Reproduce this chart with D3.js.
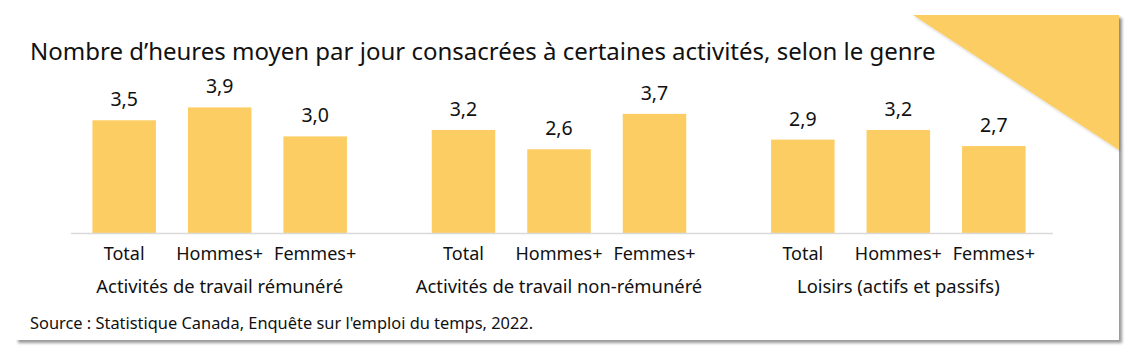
<!DOCTYPE html>
<html><head><meta charset="utf-8">
<script src="https://cdn.jsdelivr.net/npm/d3@7"></script>
<style>body{margin:0;background:#fff;}svg{display:block;font-family:"Noto Sans",sans-serif;}</style>
</head><body>
<svg id="c" width="1140" height="362"></svg>
<script>
const title = "Nombre d\u2019heures moyen par jour consacrées à certaines activités, selon le genre";
const source = "Source : Statistique Canada, Enquête sur l'emploi du temps, 2022.";
const groups = ["Activités de travail rémunéré", "Activités de travail non-rémunéré", "Loisirs (actifs et passifs)"];
const categories = ["Total", "Hommes+", "Femmes+"];
const valuesTotal = [3.5, 3.2, 2.9];
const valuesHommes = [3.9, 2.6, 3.2];
const valuesFemmes = [3.0, 3.7, 2.7];

const data = [];
groups.forEach((g, gi) => {
  [valuesTotal, valuesHommes, valuesFemmes].forEach((arr, ci) => {
    data.push({group: g, cat: categories[ci], value: arr[gi]});
  });
});

const svg = d3.select("#c");
const defs = svg.append("defs");
const f = defs.append("filter").attr("id","sh").attr("x","-5%").attr("y","-5%").attr("width","110%").attr("height","120%");
f.append("feDropShadow").attr("dx",3).attr("dy",3).attr("stdDeviation",1.8).attr("flood-color","#000").attr("flood-opacity",0.4);
const f2 = defs.append("filter").attr("id","sh2").attr("x","-10%").attr("y","-10%").attr("width","130%").attr("height","130%");
f2.append("feDropShadow").attr("dx",1).attr("dy",2).attr("stdDeviation",1).attr("flood-color","#000").attr("flood-opacity",0.15);

svg.append("rect").attr("x",15).attr("y",15).attr("width",1104).attr("height",325).attr("fill","#fff").attr("filter","url(#sh)");
const fill = "#fccd62";
svg.append("path").attr("d","M913,15L1119,15L1119,150Z").attr("fill",fill).attr("filter","url(#sh2)");

svg.append("text").attr("x",30).attr("y",60).attr("font-size",24).attr("fill","#111").text(title);

const x0 = d3.scaleBand().domain(groups).range([50, 1068]).paddingInner(0).paddingOuter(0);
const x1 = d3.scaleBand().domain(categories).range([-143.25, 143.25]).paddingInner(0.335).paddingOuter(0.1675);
const y = d3.scaleLinear().domain([0, 4]).range([233, 233 - 4*32.2]);

const gc = g => x0(g) + x0.bandwidth()/2;

svg.append("g").selectAll("rect").data(data).join("rect")
  .attr("x", d => gc(d.group) + x1(d.cat))
  .attr("y", d => y(d.value))
  .attr("width", x1.bandwidth())
  .attr("height", d => y(0) - y(d.value))
  .attr("fill", fill);

svg.append("line").attr("x1",71).attr("x2",1053).attr("y1",y(0)+0.5).attr("y2",y(0)+0.5).attr("stroke","#d9d9d9").attr("stroke-width",1.5);

const fmt = v => d3.format(".1f")(v).replace(".", ",");
svg.append("g").selectAll("text").data(data).join("text")
  .attr("x", d => gc(d.group) + x1(d.cat) + x1.bandwidth()/2)
  .attr("y", d => y(d.value) - 14)
  .attr("text-anchor","middle").attr("font-size",19.5).attr("fill","#111")
  .text(d => fmt(d.value));

svg.append("g").selectAll("text").data(data).join("text")
  .attr("x", d => gc(d.group) + x1(d.cat) + x1.bandwidth()/2)
  .attr("y", 260)
  .attr("text-anchor","middle").attr("font-size",18).attr("fill","#111")
  .text(d => d.cat);

svg.append("g").selectAll("text").data(groups).join("text")
  .attr("x", d => gc(d)).attr("y", 293)
  .attr("text-anchor","middle").attr("font-size",18.4).attr("fill","#111")
  .text(d => d);

svg.append("text").attr("x",30).attr("y",329).attr("font-size",16.4).attr("fill","#111").text(source);
</script>
</body></html>
